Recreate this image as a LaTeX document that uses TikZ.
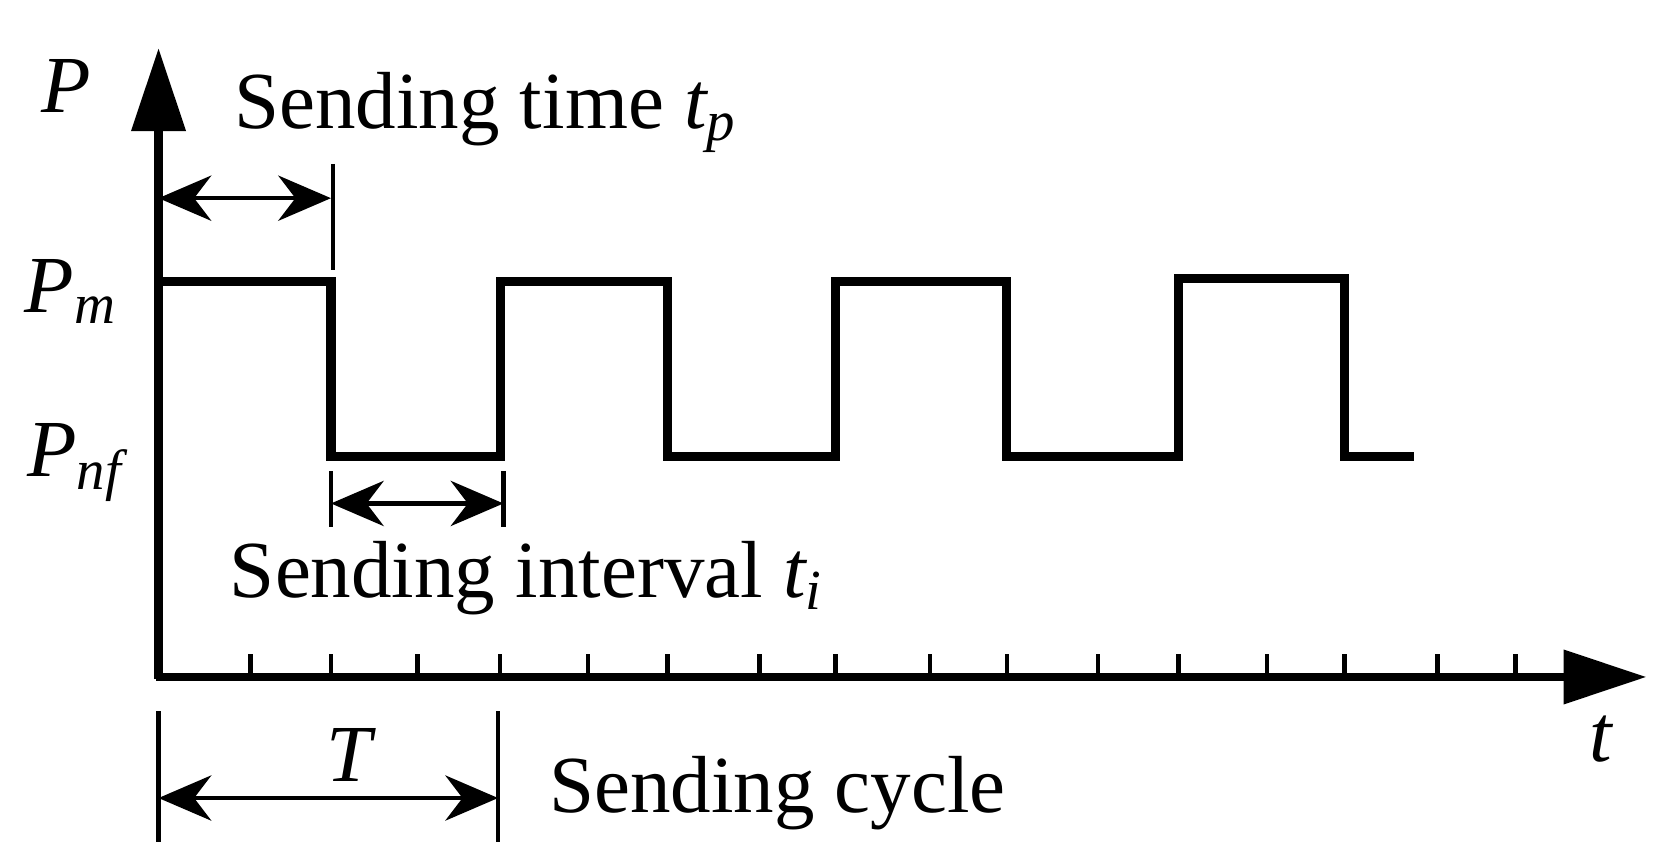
\documentclass[tikz,border=0pt]{standalone}
\usepackage{fontspec}
\setmainfont{Liberation Serif}
\usetikzlibrary{arrows.meta}
\begin{document}
\begin{tikzpicture}[x=0.01cm,y=-0.01cm,
  lbl/.style={font=\fontsize{21.5}{24}\selectfont,inner sep=0pt},
  dim/.style={line width=1.2pt,{Stealth[length=14pt,width=12pt]}-{Stealth[length=14pt,width=12pt]}},
  thin/.style={line width=1.2pt},
  wave/.style={line width=2.4pt,line join=miter}]
\useasboundingbox (0,0) rectangle (1560,802);
\coordinate (o) at (148,632);
\coordinate (ytip) at (148,45);
\coordinate (xtip) at (1537,632);
\draw[line width=2.2pt,-{Triangle[length=22pt,width=14pt]}] (148,634) -- (ytip);
\draw[line width=2.2pt,-{Triangle[length=22pt,width=14pt]}] (146,632) -- (xtip);
\foreach \x in {234,309,390,467,549,623,709,780,868,940,1025,1100,1183,1255,1342,1415}
  \draw[thin] (\x,632) -- (\x,611);
\draw[wave] (148,263) -- (309,263) -- (309,426) -- (467,426) -- (467,263) -- (623,263) -- (623,426) -- (780,426) -- (780,263) -- (940,263) -- (940,426) -- (1100,426) -- (1100,260) -- (1255,260) -- (1255,426) -- (1320,426);
% sending time
\coordinate (a1) at (148,185); \coordinate (a2) at (309,185);
\draw[thin] (311,153) -- (311,252);
\draw[dim] (a1) -- (a2);
\node[lbl,anchor=west] (st) at (218,105) {Sending time \textit{t\textsubscript{p}}};
% interval
\draw[thin] (309,440) -- (309,492);
\draw[thin] (470,440) -- (470,492);
\coordinate (b1) at (309,470); \coordinate (b2) at (470,470);
\draw[dim] (b1) -- (b2);
\node[lbl,anchor=west] (si) at (214,540) {Sending interval \textit{t\textsubscript{i}}};
% cycle
\draw[thin] (148,664) -- (148,786);
\draw[thin] (465,664) -- (465,786);
\coordinate (c1) at (148,745); \coordinate (c2) at (465,745);
\draw[dim] (c1) -- (c2);
\node[lbl] (T) at (328,705) {\textit{T}};
\node[lbl,anchor=west] (sc) at (512,740) {Sending cycle};
% axis labels
\node[lbl] (P) at (62,80) {\textit{P}};
\node[lbl] (Pm) at (66,272) {\textit{P\textsubscript{m}}};
\node[lbl] (Pnf) at (70,432) {\textit{P\textsubscript{nf}}};
\node[lbl] (t) at (1495,690) {\textit{t}};
\end{tikzpicture}
\end{document}
